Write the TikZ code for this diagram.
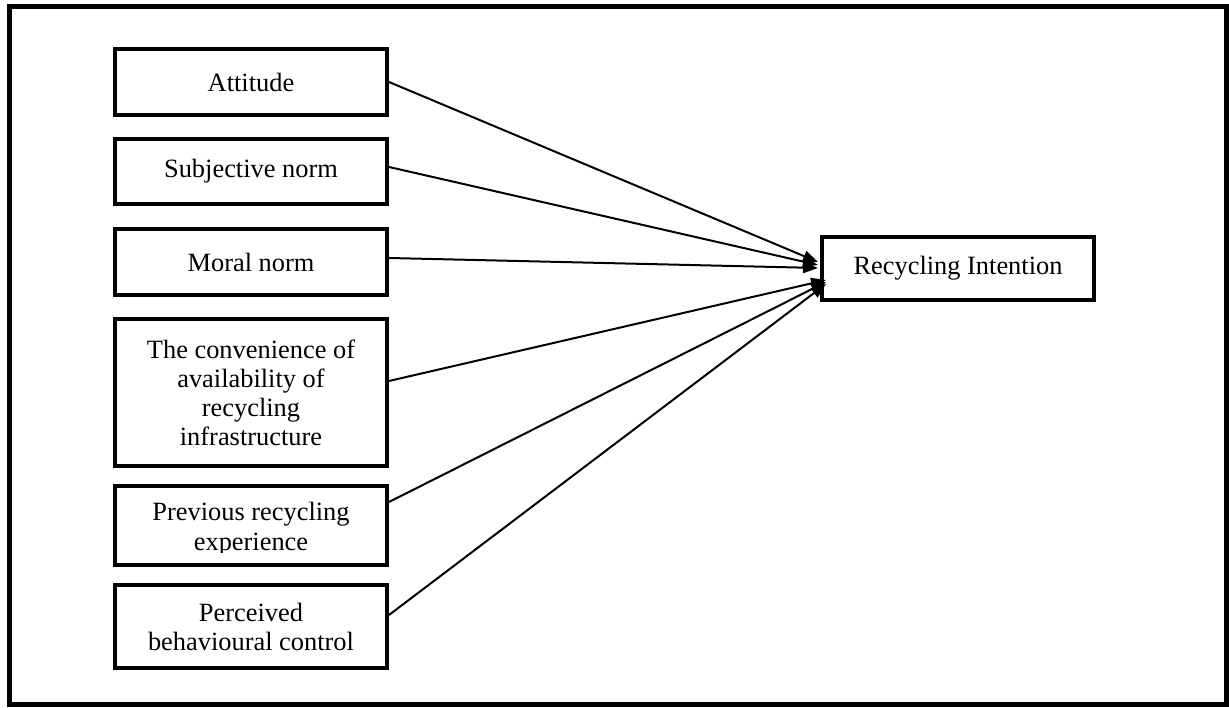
\documentclass[tikz,border=0pt]{standalone}
\usepackage{fontspec}
\setmainfont{Liberation Serif}
\usetikzlibrary{arrows.meta}

\tikzset{
  factor/.style={draw, line width=4pt, minimum width=272pt, inner sep=0pt,
    align=center, font=\fontsize{26.4}{29}\selectfont},
  link/.style={->, line width=2pt},
}

\begin{document}
\begin{tikzpicture}[x=1pt,y=1pt,>={Triangle[length=15pt,width=11pt]}]
  \useasboundingbox (0,0) rectangle (1229,708);

  % frame
  \draw[line width=5pt] (9.5,3) rectangle (1226,701.5);

  % factors
  \def\fx{251}
  \node[factor, minimum height=66pt] (att) at (\fx,626) {Attitude};
  \node[factor, minimum height=65pt] (subj) at (\fx,536.5) {Subjective norm};
  \node[factor, minimum height=66pt] (moral) at (\fx,446) {Moral norm};
  \node[factor, minimum height=147pt] (conv) at (\fx,315.5)
    {The convenience of\\availability of\\recycling\\infrastructure};
  \node[factor, minimum height=79pt] (prev) at (\fx,182.5) {};
  \begin{scope}
    \clip (\fx-134,155) rectangle (\fx+134,220);
    \node[anchor=base, align=center, font=\fontsize{26.4}{30}\selectfont] (prevtext)
      at (\fx,157) {Previous recycling\\experience};
  \end{scope}
  \node[factor, minimum height=83pt] (pbc) at (\fx,81.5)
    {Perceived\\behavioural control};

  % intention
  \node[factor, minimum height=63pt] (ri) at (958,439.5) {Recycling Intention};

  % arrow ends
  \coordinate (in1) at (818,446);
  \coordinate (in2) at (818,443);
  \coordinate (in3) at (818,440);
  \coordinate (in4) at (826,428);
  \coordinate (in5) at (826,426);
  \coordinate (in6) at (826,424);

  % arrows
  \draw[link] (att.east) -- (in1);
  \draw[link] ([yshift=4.5]subj.east) -- (in2);
  \draw[link] ([yshift=4]moral.east) -- (in3);
  \draw[link] ([yshift=11.5]conv.east) -- (in4);
  \draw[link] ([yshift=23.5]prev.east) -- (in5);
  \draw[link] ([yshift=11.5]pbc.east) -- (in6);

\end{tikzpicture}
\end{document}
